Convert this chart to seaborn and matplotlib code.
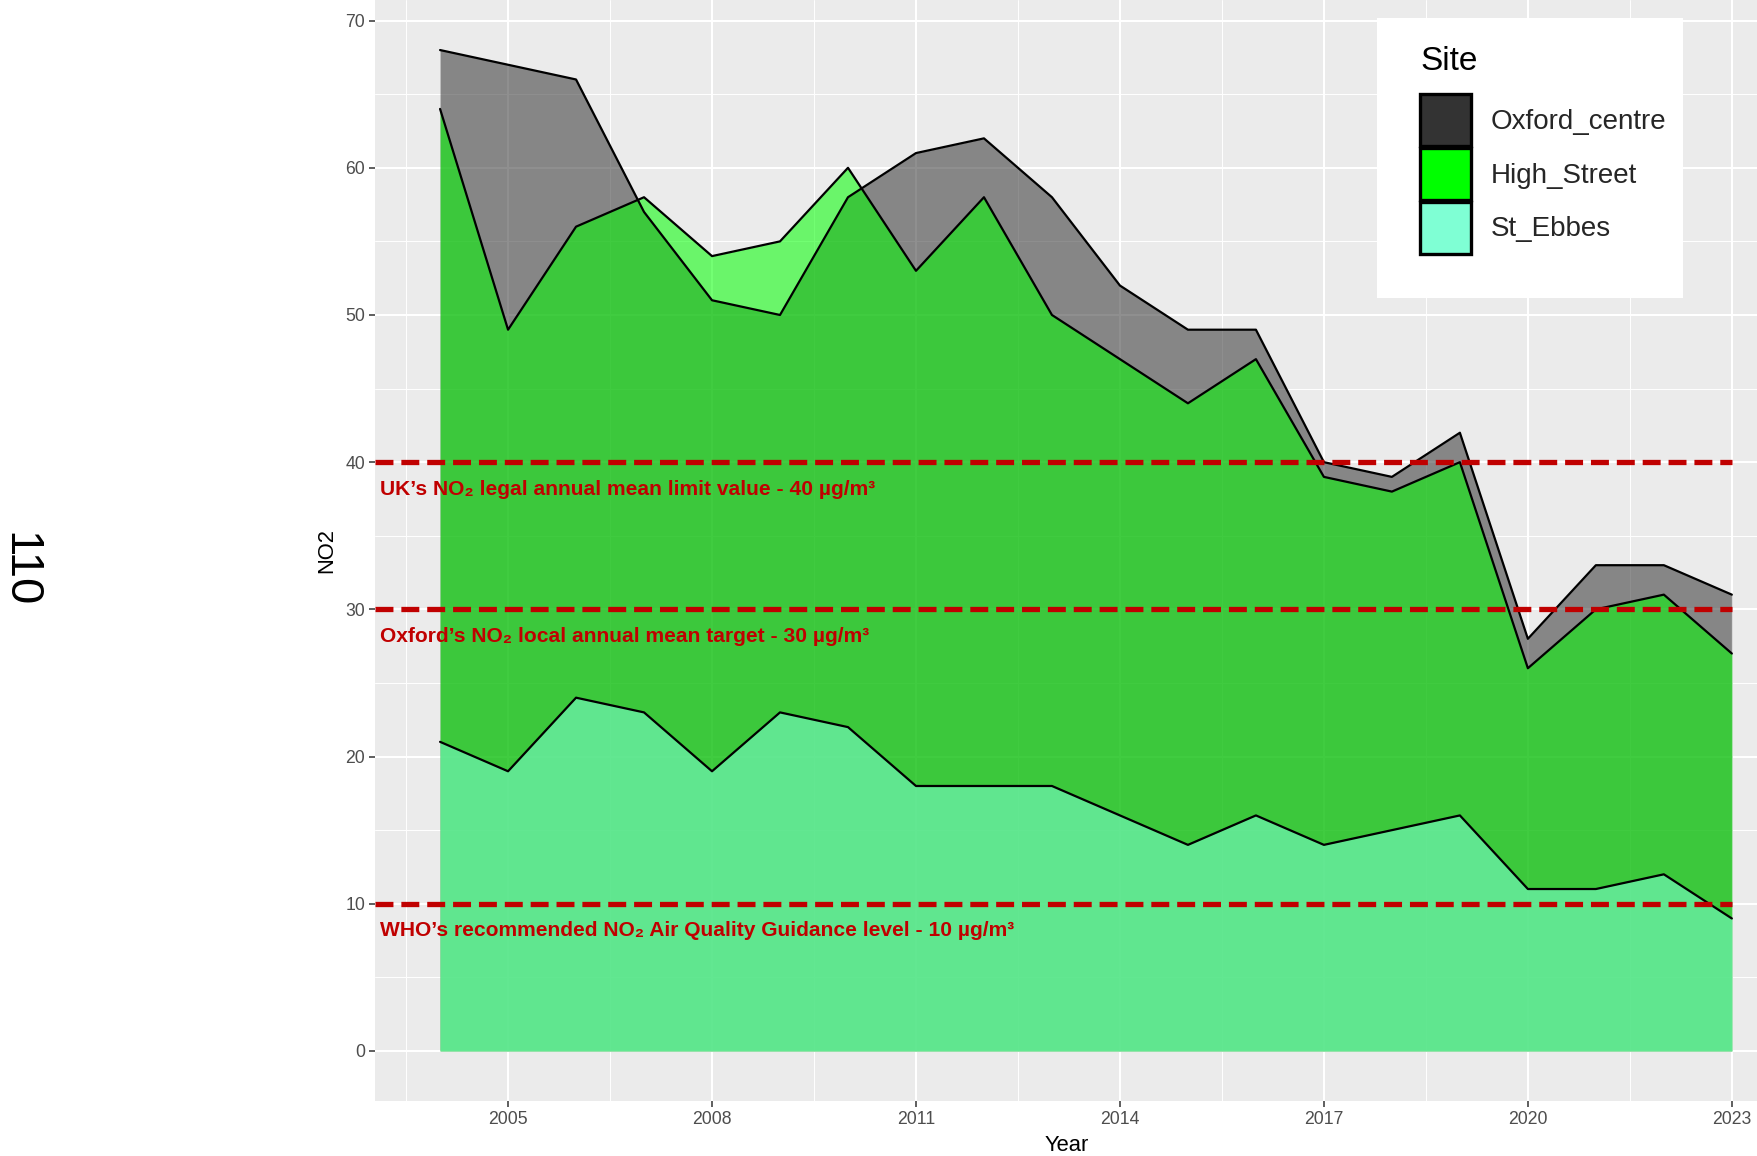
import matplotlib
matplotlib.use("Agg")
import matplotlib.pyplot as plt
import matplotlib.patches as mpatches
from matplotlib.ticker import MultipleLocator, FixedLocator
import pandas as pd
import seaborn as sns

# --- Dados ---
years = list(range(2004, 2024))
oxford_centre = [68, 67, 66, 57, 51, 50, 58, 61, 62, 58, 52, 49, 49, 40, 39, 42, 28, 33, 33, 31]
high_street = [64, 49, 56, 58, 54, 55, 60, 53, 58, 50, 47, 44, 47, 39, 38, 40, 26, 30, 31, 27]
st_ebbes = [21, 19, 24, 23, 19, 23, 22, 18, 18, 18, 16, 14, 16, 14, 15, 16, 11, 11, 12, 9]

sites = ["Oxford_centre", "High_Street", "St_Ebbes"]
site_colours = ["#333333", "#00FF00", "#7FFFD4"]

limit_values = [40, 30, 10]
limit_labels = [
    "UK\u2019s NO\u2082 legal annual mean limit value - 40 \u00b5g/m\u00b3",
    "Oxford\u2019s NO\u2082 local annual mean target - 30 \u00b5g/m\u00b3",
    "WHO\u2019s recommended NO\u2082 Air Quality Guidance level - 10 \u00b5g/m\u00b3",
]

x_ticks = [2005, 2008, 2011, 2014, 2017, 2020, 2023]

df = pd.DataFrame({
    "Year": years * 3,
    "NO2": oxford_centre + high_street + st_ebbes,
    "Site": [s for s in sites for _ in years],
})

# --- Estilo ---
sns.set_theme(style="darkgrid", rc={
    "axes.facecolor": "#EBEBEB",
    "grid.color": "white",
})
plt.rcParams["font.family"] = ["Liberation Sans", "DejaVu Sans"]

W, H = 1757, 1156
fig = plt.figure(figsize=(W / 100, H / 100), dpi=100)
ax = fig.add_axes([0.2137, 0.0476, 0.7863, 0.9524])

# áreas sobrepostas (não empilhadas), cada uma com contorno superior preto
for site, colour in zip(sites, site_colours):
    sub = df[df["Site"] == site]
    ax.fill_between(sub["Year"], 0, sub["NO2"], color=colour, alpha=0.55,
                    linewidth=0, zorder=2)
    sns.lineplot(data=sub, x="Year", y="NO2", color="black", linewidth=1.6,
                 ax=ax, zorder=2.1, legend=False)

# linhas de referência tracejadas
label_texts = []
for value, label in zip(limit_values, limit_labels):
    ax.hlines(value, 2003.05, 2023, colors="#C00000", linewidth=3.8,
              linestyles=(0, (3.4, 1.5)), zorder=3)
    t = ax.text(2003.12, value - 1.85, label, color="#C00000", fontsize=16,
                fontweight="bold", va="center", ha="left", zorder=4,
                family=["Liberation Sans Narrow", "Liberation Sans", "DejaVu Sans"])
    label_texts.append(t)

ax.set_xlim(2003.05, 2023.37)
ax.set_ylim(-3.4, 71.4)
ax.xaxis.set_major_locator(FixedLocator(x_ticks))
ax.xaxis.set_minor_locator(FixedLocator([2003.5 + 3 * i for i in range(7)]))
ax.yaxis.set_major_locator(MultipleLocator(10))
ax.yaxis.set_minor_locator(MultipleLocator(5))
ax.grid(which="major", color="white", linewidth=1.5)
ax.grid(which="minor", color="white", linewidth=0.7)
ax.set_axisbelow(True)
for spine in ax.spines.values():
    spine.set_visible(False)
ax.tick_params(which="major", length=4, width=1.1, color="#333333",
               labelsize=12.7, labelcolor="#4D4D4D", pad=3.5,
               bottom=True, left=True)
ax.tick_params(which="minor", length=0)

ax.set_xlabel("Year", fontsize=15.8, color="black", labelpad=5)
ax.set_ylabel("NO2", fontsize=15.8, color="black", labelpad=6)

# ajustar o tamanho das anotações para a largura do original (~493 px)
fig.canvas.draw()
renderer = fig.canvas.get_renderer()
w_uk = label_texts[0].get_window_extent(renderer).width
scale = 493 / w_uk
for t in label_texts:
    t.set_fontsize(16 * scale)

# legenda: caixa branca + título + chaves
fig.patches.append(mpatches.Rectangle(
    (1377 / W, 1 - 298 / H), (1683 - 1377) / W, (298 - 18) / H,
    transform=fig.transFigure, facecolor="white", edgecolor="none", zorder=4))
fig.text(1420 / W, 1 - 61 / H, "Site", fontsize=24, ha="left", va="center",
         color="black", zorder=6)
handles = [mpatches.Patch(facecolor=c, edgecolor="black", linewidth=2.4, label=s)
           for s, c in zip(sites, site_colours)]
leg = fig.legend(handles=handles, loc="upper left",
                 bbox_to_anchor=(1420 / W, 1 - 94 / H), fontsize=20,
                 handlelength=1.85, handleheight=2.53, labelspacing=0.05,
                 borderpad=0, borderaxespad=0, handletextpad=0.7, frameon=False)
leg.set_zorder(6)

# número de página na margem
fig.text(0.011, 0.507, "110", rotation=-90, fontsize=34, ha="center",
         va="center", color="black")

plt.savefig("out.png", dpi=100)
plt.close()
